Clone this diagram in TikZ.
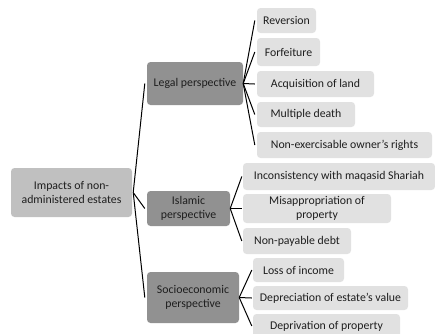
\documentclass[tikz,border=0pt]{standalone}
\usepackage{fontspec}
\setmainfont{Carlito}
\definecolor{rootfill}{RGB}{192,192,192}
\definecolor{midfill}{RGB}{145,145,145}
\definecolor{leaffill}{RGB}{225,225,225}
\definecolor{txt}{RGB}{30,30,30}
\begin{document}
\begin{tikzpicture}[x=1pt,y=-1pt,
  box/.style={rounded corners=3.5pt,inner sep=1pt,align=center,text=txt,font=\fontsize{11.8}{13.5}\selectfont},
  rootbox/.style={box,fill=rootfill},
  midbox/.style={box,fill=midfill},
  leafbox/.style={box,fill=leaffill},
  conn/.style={draw=black,line width=1pt}]
\useasboundingbox (0,0) rectangle (435,333);
\begin{scope}
\clip (0,0) rectangle (435,333);
\node[rootbox,minimum width=121pt,minimum height=49pt] (root) at (71.5,192.5) {Impacts of non-\\administered estates};
\node[midbox,minimum width=96pt,minimum height=43pt] (legal) at (195,83.5) {Legal perspective};
\node[midbox,minimum width=83pt,minimum height=35pt] (islam) at (188.5,208.5) {Islamic\\perspective};
\node[midbox,minimum width=92pt,minimum height=51pt] (socio) at (193,297.5) {Socioeconomic\\perspective};
\node[leafbox,minimum width=59pt,minimum height=25pt] (rev) at (286.5,20.5) {Reversion};
\node[leafbox,minimum width=63pt,minimum height=28pt] (forf) at (288.5,52) {Forfeiture};
\node[leafbox,minimum width=117pt,minimum height=26pt] (acq) at (315.5,84) {Acquisition of land};
\node[leafbox,minimum width=98pt,minimum height=25pt] (mult) at (306,114.5) {Multiple death};
\node[leafbox,minimum width=175pt,minimum height=26pt] (nonex) at (344.5,145) {Non-exercisable owner's rights};
\node[leafbox,minimum width=192pt,minimum height=27pt] (incon) at (339,176.5) {Inconsistency with maqasid Shariah};
\node[leafbox,minimum width=148pt,minimum height=29pt] (misap) at (317,208.5) {Misappropriation of\\property};
\node[leafbox,minimum width=108pt,minimum height=26pt] (nonpay) at (297,241) {Non-payable debt};
\node[leafbox,minimum width=91pt,minimum height=24pt] (loss) at (298.5,270) {Loss of income};
\node[leafbox,minimum width=155pt,minimum height=24pt] (depr) at (330.5,298) {Depreciation of estate's value};
\node[leafbox,minimum width=147pt,minimum height=24pt] (depv) at (326.5,326) {Deprivation of property};
\end{scope}
\coordinate (r0) at ([xshift=1pt]root.east);
\foreach \t in {legal,islam,socio} \draw[conn] (r0) -- ([xshift=-2pt]\t.west);
\foreach \t in {rev,forf,acq,mult,nonex} \draw[conn] (legal.east) -- ([xshift=-2pt]\t.west);
\foreach \t in {incon,misap,nonpay} \draw[conn] (islam.east) -- ([xshift=-1pt]\t.west);
\foreach \t in {loss,depr,depv} \draw[conn] (socio.east) -- ([xshift=-1pt]\t.west);
\end{tikzpicture}
\end{document}
